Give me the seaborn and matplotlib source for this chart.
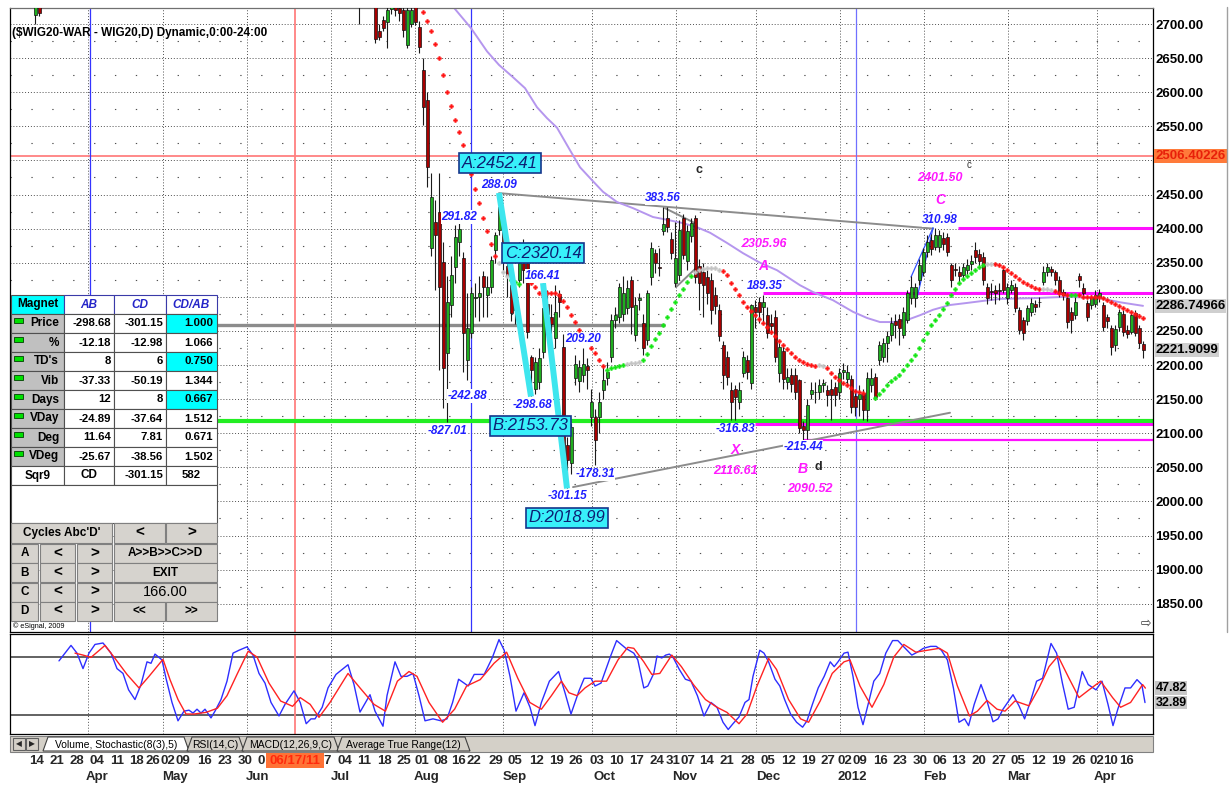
import matplotlib
matplotlib.use("Agg")

import matplotlib.pyplot as plt
import matplotlib.transforms as mtransforms
import numpy as np
import seaborn as sns
from matplotlib.patches import Polygon, Rectangle

# ---------------------------------------------------------------------------
# values
# x = session number, 0 = Mon 14 Mar 2011, one candle per session
# ---------------------------------------------------------------------------
candle_day = [0, 1] + list(range(81, 278))
opens = [
    2713, 2726,
    2740, 2745, 2750, 2740, 2725, 2690, 2706, 2703, 2722, 2728,
    2724, 2720, 2669, 2700, 2725, 2696, 2633, 2589, 2372, 2410,
    2424, 2351, 2218, 2288, 2344, 2380, 2357, 2207, 2247, 2298,
    2300, 2330, 2303, 2314, 2369, 2398, 2415, 2345, 2317, 2280,
    2325, 2350, 2350, 2212, 2165, 2175, 2219, 2290, 2270, 2240,
    2304, 2226, 2083, 2056, 2181, 2177, 2185, 2198, 2124, 2124,
    2124, 2163, 2181, 2212, 2266, 2270, 2275, 2284, 2325, 2244,
    2296, 2262, 2237, 2329, 2364, 2343, 2397, 2415, 2385, 2320,
    2332, 2416, 2352, 2389, 2416, 2345, 2337, 2329, 2325, 2303,
    2281, 2229, 2212, 2163, 2165, 2146, 2188, 2207, 2173, 2285,
    2292, 2285, 2273, 2262, 2270, 2188, 2220, 2175, 2185, 2185,
    2178, 2110, 2104, 2158, 2160, 2161, 2171, 2163, 2165, 2168,
    2160, 2190, 2180, 2180, 2155, 2150, 2159, 2134, 2170, 2182,
    2207, 2212, 2232, 2244, 2265, 2268, 2244, 2266, 2298, 2298,
    2325, 2336, 2365, 2384, 2373, 2373, 2386, 2388, 2346, 2341,
    2337, 2332, 2340, 2348, 2368, 2363, 2358, 2314, 2308, 2310,
    2310, 2340, 2298, 2310, 2314, 2281, 2266, 2264, 2278, 2289,
    2292, 2322, 2336, 2341, 2336, 2325, 2307, 2298, 2278, 2273,
    2330, 2313, 2291, 2288, 2290, 2300, 2288, 2270, 2254, 2230,
    2256, 2275, 2252, 2249, 2276, 2254, 2231,
]
highs = [
    2740, 2735,
    2760, 2760, 2760, 2750, 2735, 2700, 2712, 2730, 2740, 2740,
    2735, 2730, 2728, 2735, 2735, 2705, 2650, 2600, 2481, 2442,
    2481, 2380, 2330, 2360, 2405, 2420, 2365, 2305, 2315, 2320,
    2330, 2338, 2330, 2360, 2395, 2452, 2425, 2360, 2330, 2320,
    2380, 2385, 2360, 2215, 2212, 2225, 2320, 2310, 2290, 2318,
    2310, 2245, 2095, 2115, 2215, 2208, 2225, 2210, 2165, 2135,
    2160, 2200, 2205, 2275, 2285, 2320, 2330, 2325, 2330, 2300,
    2305, 2275, 2310, 2380, 2370, 2372, 2432, 2432, 2395, 2410,
    2413, 2422, 2405, 2415, 2420, 2355, 2350, 2340, 2335, 2315,
    2290, 2235, 2220, 2175, 2170, 2175, 2220, 2215, 2290, 2295,
    2300, 2302, 2285, 2275, 2280, 2232, 2228, 2195, 2195, 2195,
    2180, 2118, 2150, 2175, 2175, 2180, 2180, 2170, 2180, 2175,
    2195, 2203, 2200, 2185, 2160, 2170, 2165, 2190, 2195, 2188,
    2235, 2240, 2250, 2270, 2275, 2275, 2285, 2310, 2330, 2320,
    2355, 2372, 2390, 2392, 2401.5, 2398, 2395, 2393, 2350, 2350,
    2345, 2350, 2355, 2362, 2380, 2370, 2365, 2320, 2320, 2318,
    2320, 2345, 2320, 2325, 2320, 2285, 2270, 2288, 2298, 2295,
    2300, 2345, 2350, 2345, 2340, 2330, 2312, 2303, 2285, 2300,
    2335, 2320, 2295, 2302, 2310, 2312, 2292, 2275, 2258, 2258,
    2282, 2280, 2258, 2278, 2281, 2258, 2235,
]
lows = [
    2700, 2712,
    2700, 2728, 2730, 2725, 2672, 2676, 2690, 2665, 2715, 2712,
    2705, 2681, 2665, 2695, 2698, 2657, 2552, 2461, 2360, 2310,
    2193, 2137, 2117, 2270, 2320, 2360, 2190, 2178, 2240, 2270,
    2265, 2270, 2270, 2305, 2350, 2390, 2340, 2300, 2265, 2260,
    2315, 2320, 2240, 2154, 2158, 2165, 2210, 2255, 2240, 2225,
    2270, 2050, 2019, 2040, 2170, 2160, 2175, 2165, 2110, 2053,
    2100, 2150, 2170, 2205, 2255, 2262, 2265, 2275, 2245, 2235,
    2280, 2215, 2230, 2318, 2335, 2330, 2390, 2395, 2355, 2315,
    2325, 2355, 2340, 2380, 2320, 2280, 2270, 2290, 2260, 2275,
    2235, 2165, 2170, 2120, 2120, 2135, 2183, 2180, 2165, 2255,
    2262, 2260, 2240, 2245, 2205, 2175, 2165, 2165, 2160, 2150,
    2100, 2090.5, 2092, 2150, 2145, 2150, 2160, 2140, 2120, 2140,
    2150, 2180, 2170, 2130, 2125, 2125, 2120, 2118, 2160, 2148,
    2200, 2205, 2205, 2235, 2240, 2230, 2240, 2262, 2290, 2285,
    2318, 2330, 2358, 2362, 2368, 2365, 2368, 2360, 2315, 2330,
    2320, 2325, 2333, 2340, 2350, 2345, 2318, 2290, 2295, 2290,
    2295, 2305, 2290, 2305, 2278, 2245, 2237, 2258, 2272, 2278,
    2285, 2318, 2330, 2330, 2318, 2300, 2295, 2255, 2247, 2268,
    2315, 2298, 2265, 2282, 2285, 2292, 2250, 2255, 2215, 2220,
    2250, 2243, 2240, 2245, 2242, 2225, 2210,
]
closes = [
    2728, 2716,
    2745, 2750, 2740, 2735, 2678, 2681, 2694, 2720, 2725, 2720,
    2716, 2691, 2720, 2720, 2703, 2666, 2578, 2490, 2446, 2391,
    2314, 2196, 2292, 2332, 2388, 2400, 2247, 2254, 2305, 2300,
    2305, 2314, 2314, 2354, 2391, 2432, 2352, 2330, 2276, 2300,
    2350, 2340, 2248, 2193, 2205, 2210, 2284, 2275, 2260, 2278,
    2293, 2056, 2060, 2109, 2202, 2197, 2202, 2192, 2146, 2090,
    2146, 2178, 2190, 2266, 2273, 2314, 2305, 2313, 2285, 2288,
    2298, 2225, 2306, 2372, 2350, 2342, 2407, 2402, 2364, 2357,
    2398, 2361, 2397, 2408, 2329, 2320, 2318, 2306, 2281, 2286,
    2242, 2185, 2183, 2146, 2153, 2163, 2212, 2190, 2288, 2278,
    2278, 2292, 2247, 2257, 2212, 2226, 2180, 2183, 2172, 2160,
    2108, 2104, 2141, 2163, 2161, 2170, 2173, 2156, 2156, 2156,
    2188, 2192, 2190, 2138, 2138, 2158, 2134, 2181, 2181, 2153,
    2229, 2232, 2243, 2262, 2258, 2255, 2277, 2305, 2314, 2314,
    2346, 2365, 2380, 2370, 2390, 2390, 2377, 2366, 2325, 2340,
    2331, 2343, 2346, 2353, 2358, 2353, 2325, 2298, 2307, 2305,
    2309, 2310, 2314, 2318, 2283, 2251, 2247, 2283, 2291, 2285,
    2293, 2336, 2343, 2337, 2325, 2307, 2302, 2263, 2266, 2293,
    2325, 2305, 2270, 2299, 2302, 2305, 2256, 2264, 2226, 2253,
    2277, 2249, 2246, 2273, 2247, 2232, 2222,
]

# lavender moving average
ma_day = [104, 109, 113, 116, 119.5, 122.5, 125.5, 128, 130.5, 133.75,
          136.25, 139.25, 142, 145.5, 149.5, 154.5, 158, 162, 165.5, 168.75,
          173, 177, 181.25, 185.5, 191.25, 194.5, 199.5, 204.5, 208, 211.25,
          214.5, 218, 221.25, 224.5, 228.75, 233, 237, 241.25, 249.5, 258,
          266.25, 271.25, 277]
ma_val = [2729, 2694, 2660, 2640, 2622, 2606, 2578, 2562, 2548, 2515,
          2490, 2471, 2454, 2439, 2430, 2417, 2413, 2408, 2402, 2394,
          2379, 2364, 2350, 2339, 2317, 2307, 2295, 2278, 2269, 2263,
          2263, 2266, 2273, 2281, 2288, 2291, 2294, 2297, 2298, 2300,
          2298, 2292, 2286.74966]

# "+" stop line, one value per session starting at session 96
trail_first_day = 96
trail_val = [
    2735, 2718, 2704, 2690, 2670, 2650, 2625, 2600, 2580, 2560,
    2541, 2522, 2500, 2480, 2458, 2437, 2416, 2396, 2378, 2360,
    2350, 2337, 2330, 2325, 2322, 2319, None, None, 2320, 2314,
    2305, 2303, 2306, 2306, 2305, 2303, 2294, 2285, 2273, 2263,
    2251, 2242, 2233, 2225, 2218, 2207, 2198, 2193, 2195, 2197,
    2199, 2200, 2202, 2203, 2203, 2204, 2207, 2216, 2228, 2238,
    2247, 2258, 2270, 2282, 2293, 2303, 2312, 2321, 2330, 2336,
    2339, 2341, 2342, 2342, 2342, 2340, 2338, 2332, 2320, 2312,
    2303, 2292, 2285, 2279, 2273, 2267, 2262, 2256, 2249, 2242,
    2235, 2229, 2223, 2217, 2212, 2208, 2204, 2201, 2200, 2199,
    2200, 2199, 2196, 2189, 2183, 2178, 2174, 2170, 2166, 2162,
    2160, 2159, None, None, 2152, 2158, 2164, 2170, 2176, 2181,
    2186, 2193, 2200, 2207, 2215, 2225, 2236, 2247, 2258, 2266,
    2273, 2282, 2291, 2302, 2312, 2320, 2326, 2330, 2335, 2340,
    2344, 2347, 2348, 2348, 2348, 2346, 2343, 2339, 2335, 2331,
    2326, 2322, 2319, 2316, 2313, 2311, 2311, 2311, 2310, 2308,
    2306, 2304, 2303, 2303, 2303, 2302, 2300, 2300, 2300, 2300,
    2299, 2298, 2296, 2293, 2290, 2287, 2284, 2281, 2278, 2275,
    2272, 2269,
]
# r = red (above price), g = green (below price), n = grey, - = nothing
trail_side = ("rrrrrrrrrrrrrrrrrrrr" "nnn" "ggg" "--" "rrrrrrrrrrrrrrrrrrr"
              "ggggg" "nnnn" "ggggggggggggg" "nnnnnnn"
              "rrrrrrrrrrrrrrrrrrrrrrrr" "nn" "rrrrrrrrrr" "--"
              "gggggggggggggggggggggggggggg" "nn" "rrrrrrrrrrrr" "nnn"
              "rrrr" "gg" "rrrrrrrrrrrrrrrrr")

# Stochastic(8(3),5): %K (blue) and %D (red)
k_day = [6, 9, 10.5, 12, 13.5, 15, 17, 19, 20.5, 22,
         23.4, 25, 26.5, 28, 29, 30, 31.75, 32.75, 34.25, 35.75,
         37.25, 38.5, 39.5, 40.5, 41.5, 42.5, 44, 45, 46.5, 48,
         49.5, 51, 53, 54.5, 56, 57.5, 59, 61, 62.5, 64.75,
         66.3, 67.8, 69, 70, 71.8, 73.25, 75.25, 76.75, 78.25, 79.75,
         81.25, 83.75, 85, 87, 88, 90, 91.5, 93, 94.5, 96,
         97.5, 99.5, 101.5, 103, 104.4, 105.9, 108.3, 109.8, 112.3, 114.3,
         116, 117.3, 118.75, 120.25, 122.25, 123.75, 125, 126.6, 128.6, 130.9,
         132.5, 134, 136, 137.3, 139, 140, 141.5, 144, 145.4, 147.7,
         149.7, 150.7, 152.2, 153.2, 154.7, 155.5, 156.7, 157.7, 158.6, 159.6,
         161.1, 162.6, 164, 165.6, 167.25, 169, 170.5, 172, 173.3, 174.5,
         176, 177.5, 178.5, 179.5, 181.2, 182.25, 183.4, 185, 186.2, 187.4,
         188.9, 190.4, 191.9, 193, 194.35, 195.8, 197.3, 198.8, 199.8, 200.75,
         202.25, 203.25, 204.5, 205.75, 207, 208.4, 209.7, 211.2, 212.7, 214.4,
         215.7, 217.2, 219.2, 220.6, 222.1, 223.9, 225.3, 226.6, 228.1, 229.6,
         231, 232.4, 233.4, 234.8, 236.5, 238, 239.5, 240.75, 242, 244.5,
         246, 247.4, 249, 250.4, 251.9, 254, 255.4, 256.85, 258.3, 259.8,
         261.8, 263.3, 265.25, 266.75, 268.25, 269.5, 270.7, 272.5, 273.9, 275.5,
         276.7, 277.5]
k_val = [76, 92, 84, 68, 84, 93, 94.5, 84, 68, 63,
         46, 36, 51.5, 75, 73.5, 83, 77, 58, 33, 14,
         24, 25, 22, 26, 22, 26, 17, 24, 36, 55,
         84, 87, 90.5, 82, 63, 53, 33, 19, 31, 45,
         33, 11, 16, 16, 28, 48, 62, 67, 72, 51.5,
         23, 41, 24, 8.4, 40, 75, 60, 60, 63, 40,
         14, 16, 14, 16, 33, 57, 50, 62, 62, 79,
         98, 87, 60, 24, 43, 28, 9, 33, 55, 65,
         43, 21, 45, 58, 58, 50, 53, 82, 97, 89,
         84, 77, 48, 50, 63, 81, 79, 82, 83, 79,
         67, 57, 55, 40, 19, 33, 28, 12.5, 5, 11,
         18, 33, 36, 60, 87, 84, 75, 57, 50, 36,
         21, 12.5, 7.4, 14, 31, 48, 60, 75, 70, 75,
         84, 85, 60, 28, 10, 33, 55, 63, 84, 97,
         97, 90.5, 82, 85, 89, 91, 91, 87, 77, 48,
         12.5, 16, 9, 31, 51.5, 34.5, 13, 16, 26, 41,
         29.5, 16, 36, 55, 58, 94, 84, 53, 26, 28,
         65, 51.5, 46, 55, 31, 9, 26, 48, 48, 56.6,
         51.5, 32.89]
d_day = [10, 12, 14, 17.5, 20, 23, 26, 28.5, 32, 33.75,
         35.75, 37.75, 39.75, 42.75, 45.6, 48, 50.5, 53.3, 55.5, 58.5,
         61.4, 64.4, 66.3, 68.8, 71, 73.75, 78.25, 81.25, 84.75, 87.6,
         90.6, 93.5, 95.5, 98.5, 101.9, 104.9, 107.9, 111.3, 114.75, 117.9,
         120.7, 123.7, 126.6, 129.1, 131.6, 133.5, 135.5, 137.5, 140, 142.9,
         145.75, 148.2, 149.7, 152.2, 154.2, 156.2, 159.2, 161.6, 164.6, 167.6,
         170.5, 173, 176, 178, 180.5, 183.4, 185.4, 188.4, 191.4, 193.4,
         196.3, 199.3, 202.25, 203.75, 206.25, 209.25, 212.2, 214.7, 217.2, 220.2,
         223.1, 226.1, 228.1, 230.6, 233.6, 235.6, 238, 240.5, 242.5, 245,
         248.5, 251, 253.5, 255.75, 258.5, 261, 263.5, 266.4, 269.4, 271.4,
         273.9, 276.9, 277.6]
d_val = [84, 82, 79.6, 92, 78.6, 62, 48, 60, 77.6, 56.6,
         36, 21, 21, 22.7, 27, 40, 62, 86, 80, 53,
         34.5, 29, 38, 31, 17.6, 33, 63, 48, 31, 24,
         55, 65, 60, 33, 12.5, 26, 50, 56.6, 73.5, 85,
         58, 33, 26, 40, 55, 43, 40, 48, 55, 55,
         77, 90, 89, 75, 62, 63, 82, 70, 51.5, 36,
         28, 22.7, 11, 21, 50, 78.6, 67, 36, 16, 12.5,
         34.5, 63, 75, 77, 50, 28, 51.5, 80, 93, 85,
         87, 89, 84, 50, 19, 24, 35, 26, 24, 34.5,
         29.5, 48, 70, 81, 58, 38, 46, 55, 38, 28,
         33, 51.5, 47.82]

# ABCD pattern (harmonic tool)
abcd_day = [116, 124, 127, 133]
abcd_val = [2452.41, 2153.73, 2320.14, 2018.99]

# price scale
price_ticks = [1850, 1900, 1950, 2000, 2050, 2100, 2150, 2200, 2250, 2300,
               2350, 2400, 2450, 2500, 2550, 2600, 2650, 2700]
price_minor = [1875, 1925, 1975, 2025, 2075, 2125, 2175, 2225, 2275, 2325,
               2375, 2425, 2475, 2525, 2575, 2625, 2675]

# calendar axis (labels hidden under the cursor-date flag are left out)
week_day = [0.5, 5.5, 10.5, 15.5, 20.5, 25.25, 29.5, 33.25, 37, 42.5,
            47.5, 52.5, 56.5, 73, 77.5, 82.25, 87.25, 92.25,
            96.75, 101.5, 106, 109.75, 115.25, 120, 125.25, 130.25, 135.25, 140.5,
            145.5, 150.5, 155.5, 159.5, 163.25, 168, 173, 178.25, 183.25, 188.25,
            193.25, 198.25, 202.5, 206.25, 211.25, 216.25, 221.25, 226.25, 231, 236,
            241, 245.75, 251, 256, 261, 265.5, 269, 273]
week_lbl = ["14", "21", "28", "04", "11", "18", "26", "02", "09", "16",
            "23", "30", "0", "7", "04", "11", "18", "25",
            "01", "08", "16", "22", "29", "05", "12", "19", "26", "03",
            "10", "17", "24", "31", "07", "14", "21", "28", "05", "12",
            "19", "27", "02", "09", "16", "23", "30", "06", "13", "20",
            "27", "05", "12", "19", "26", "02", "10", "16"]
month_day = [15.5, 35, 55.75, 76.25, 98, 120, 142.25, 162.5, 183.25, 204.25,
             225, 246, 267.5]
month_lbl = ["Apr", "May", "Jun", "Jul", "Aug", "Sep", "Oct", "Nov", "Dec",
             "2012", "Feb", "Mar", "Apr"]
month_grid = [13.25, 32, 53, 74, 95, 117, 139.25, 160.25, 180.25, 201.25,
              222.25, 243.25, 265.5]

# "Magnet" table
tbl_rows = ["Price", "%", "TD's", "Vib", "Days", "VDay", "Deg", "VDeg"]
tbl_ab = ["-298.68", "-12.18", "8", "-37.33", "12", "-24.89", "11.64", "-25.67"]
tbl_cd = ["-301.15", "-12.98", "6", "-50.19", "8", "-37.64", "7.81", "-38.56"]
tbl_ratio = ["1.000", "1.066", "0.750", "1.344", "0.667", "1.512", "0.671", "1.502"]
tbl_hilite = [True, False, True, False, True, False, False, False]

# ---------------------------------------------------------------------------
sns.set_theme(style="white")
plt.rcParams["font.family"] = ["Liberation Sans", "DejaVu Sans"]

W, H = 1232, 785
XMIN, XMAX = -6.25, 279.5
fig = plt.figure(figsize=(W / 100, H / 100), dpi=100)
fig.patch.set_facecolor("white")


def px_box(left, top, right, bottom):
    return [left / W, 1 - bottom / H, (right - left) / W, (bottom - top) / H]


ax = fig.add_axes(px_box(10, 8, 1153, 632))
ax_st = fig.add_axes(px_box(10, 634, 1153, 734))
ax_dt = fig.add_axes(px_box(10, 740, 1153, 752))
ui = fig.add_axes([0, 0, 1, 1], zorder=10)
ui.set_xlim(0, W)
ui.set_ylim(H, 0)
ui.axis("off")
ui.patch.set_alpha(0)

dot = (0, (1, 2))
sparse = (0, (1.2, 17.6))

# ---------------- price panel ----------------
ax.set_facecolor("white")
ax.set_xlim(XMIN, XMAX)
ax.set_ylim(1808.5, 2723.5)
ax.set_axisbelow(True)
ax.set_yticks(price_ticks)
ax.set_yticks(price_minor, minor=True)
# 2500.00 sits under the 2506.40226 flag
ax.set_yticklabels(["" if v == 2500 else f"{v:.2f}" for v in price_ticks],
                   fontsize=9.5, fontweight="bold")
ax.yaxis.tick_right()
ax.tick_params(axis="y", which="both", length=0, pad=1.5, labelcolor="black")
for tick in ax.yaxis.get_major_ticks():
    if tick.get_loc() == 2300:
        tick.label2.set_verticalalignment("bottom")
ax.set_xticks(month_grid)
ax.tick_params(axis="x", length=0, labelbottom=False)
ax.grid(True, which="major", axis="both", linestyle=dot, color="#505050", lw=0.7)
ax.grid(True, which="minor", axis="y", linestyle=sparse, color="#505050", lw=0.8)
for s in ax.spines.values():
    s.set_color("black")
    s.set_linewidth(0.9)
ax.spines["top"].set_color("#707070")

# level lines
ax.axhline(2506.40226, color="#ff8080", lw=1.3, zorder=1.6)
ax.hlines(2259, XMIN, 157.5, color="#8c8c8c", lw=2.4, zorder=1.6)
ax.axhline(2118, color="#22ee22", lw=3.0, zorder=1.7)
ax.hlines(2113, 180, XMAX, color="#ff10ff", lw=2.2, zorder=1.7)
ax.hlines(2401.5, 230.75, XMAX, color="#ff10ff", lw=2.2, zorder=1.7)
ax.hlines(2305.96, 182, XMAX, color="#ff10ff", lw=2.2, zorder=1.7)
ax.hlines(2090.52, 192, XMAX, color="#ff10ff", lw=1.6, zorder=1.7)
ax.axvline(65, color="#ff8080", lw=1.3, zorder=1.6)
for d, col in ((13.75, "#3434ff"), (109, "#3434ff"), (205.25, "#7070ff")):
    ax.axvline(d, color=col, lw=0.9, zorder=1.6)

# trend lines
ax.plot([116, 224.5], [2452, 2400], color="#8c8c8c", lw=1.4, zorder=2)
ax.plot([134.5, 228.75], [2021, 2130], color="#8c8c8c", lw=1.4, zorder=2)
ax.plot([157.5, 165], [2430, 2408], color="#8c8c8c", lw=1.4, zorder=2)
ax.plot([160.4, 165.4], [2315, 2343], color="#8c8c8c", lw=1.4, zorder=2)
ax.plot([219, 224.5], [2329, 2401], color="#3050ff", lw=0.9, zorder=2)
ax.plot([220.5, 224.5], [2298, 2401], color="#3050ff", lw=0.9, zorder=2)

# moving average
sns.lineplot(x=ma_day, y=ma_val, ax=ax, color="#b596ee", lw=1.4,
             estimator=None, sort=False, zorder=2.2)

# candles
o = np.array(opens, float)
h = np.array(highs, float)
lo = np.array(lows, float)
c = np.array(closes, float)
body_col = np.where(c >= o, "#1fae1f", "#a80000")
ax.vlines(candle_day, lo, h, color="#1a1a1a", lw=0.8, zorder=3)
ax.bar(candle_day, np.abs(c - o), bottom=np.minimum(o, c), width=0.75,
       color=body_col, edgecolor="#111111", linewidth=0.5, zorder=3.1)

# stop line "+" markers
t_day = np.arange(trail_first_day, trail_first_day + len(trail_val))
t_val = np.array([np.nan if v is None else v for v in trail_val], float)
t_side = np.array(list(trail_side))
for code, col in (("r", "#ff1414"), ("g", "#14e614"), ("n", "#c4c4c4")):
    m = t_side == code
    ax.plot(t_day[m], t_val[m], ls="none", marker="P", ms=3.0, color=col,
            mec=col, mew=0.3, zorder=4)

# ABCD legs
ax.plot(abcd_day[0:2], abcd_val[0:2], color="#3ee6ee", lw=4.3, zorder=4.5,
        solid_capstyle="butt")
ax.plot(abcd_day[2:4], abcd_val[2:4], color="#3ee6ee", lw=4.3, zorder=4.5,
        solid_capstyle="butt")

box_style = dict(boxstyle="square,pad=0.16", fc="#38f0fa", ec="#14368c", lw=1.2)
for d, v, s in ((116.25, 2496, "A:2452.41"), (123.9, 2110.6, "B:2153.73"),
                (127, 2364, "C:2320.14"), (133, 1975.7, "D:2018.99")):
    ax.text(d, v, s, ha="center", va="center", fontsize=12, fontstyle="italic",
            color="#0c1f73", bbox=box_style, zorder=8)


def blue(d, v, s):
    ax.text(d, v, s, ha="center", va="center", fontsize=8.5, fontweight="bold",
            fontstyle="italic", color="#1f1fff", zorder=7,
            bbox=dict(boxstyle="square,pad=0.05", fc="white", ec="none"))


def pink(d, v, s, size=9):
    ax.text(d, v, s, ha="center", va="center", fontsize=size, fontweight="bold",
            fontstyle="italic", color="#ff1aff", zorder=7)


blue(116, 2464, "288.09")
blue(106, 2417, "291.82")
blue(157, 2445, "383.56")
blue(127, 2330.5, "166.41")
blue(108, 2154.5, "-242.88")
blue(124.25, 2141.3, "-298.68")
blue(103, 2103, "-827.01")
blue(137, 2238, "209.20")
blue(140, 2040, "-178.31")
blue(133, 2008, "-301.15")
blue(175, 2106, "-316.83")
blue(192, 2080, "-215.44")
blue(182.5, 2316, "189.35")
blue(226.25, 2412.6, "310.98")

pink(182.25, 2377.4, "2305.96")
pink(182, 2345, "A", 10)
pink(175, 2075.5, "X", 10)
pink(175.25, 2044.6, "2116.61")
pink(192, 2047.5, "B", 10)
pink(193.75, 2018, "2090.52")
pink(226.25, 2442, "C", 10)
pink(226.25, 2474, "2401.50")
ax.text(166, 2486, "c", ha="center", va="center", fontsize=9, fontweight="bold", zorder=7)
ax.text(195.75, 2050.5, "d", ha="center", va="center", fontsize=9, fontweight="bold", zorder=7)
ax.text(233.5, 2494, "ĉ", ha="center", va="center", fontsize=7, color="#333333", zorder=7)

# value flags on the price scale
rt = mtransforms.blended_transform_factory(ax.transAxes, ax.transData)
ax.text(1.002, 2506.40226, "2506.40226", transform=rt, ha="left", va="center",
        fontsize=9.5, fontweight="bold", color="#e8200a", zorder=20,
        bbox=dict(boxstyle="square,pad=0.1", fc="#ff7a3a", ec="none"))
ax.text(1.002, 2286.74966, "2286.74966", transform=rt, ha="left", va="center",
        fontsize=9.5, fontweight="bold", color="black", zorder=20,
        bbox=dict(boxstyle="square,pad=0.05", fc="#cfcfcf", ec="none"))
ax.text(1.002, 2221.9099, "2221.9099", transform=rt, ha="left", va="center",
        fontsize=9.5, fontweight="bold", color="black", zorder=20,
        bbox=dict(boxstyle="square,pad=0.05", fc="#cfcfcf", ec="none"))
ax.set_xlabel("")
ax.set_ylabel("")

# ---------------- stochastic panel ----------------
ax_st.set_facecolor("white")
sns.lineplot(x=k_day, y=k_val, ax=ax_st, color="#2e2eff", lw=1.0,
             estimator=None, sort=False)
sns.lineplot(x=d_day, y=d_val, ax=ax_st, color="#ff2222", lw=1.0,
             estimator=None, sort=False)
ax_st.set_xlim(XMIN, XMAX)
ax_st.set_ylim(0.35, 103.8)
ax_st.set_axisbelow(True)
ax_st.set_xticks(month_grid)
ax_st.set_yticks([])
ax_st.tick_params(axis="x", length=0, labelbottom=False)
ax_st.grid(True, axis="x", linestyle=dot, color="#505050", lw=0.7)
ax_st.axhline(80, color="#383838", lw=1.1, zorder=1.5)
ax_st.axhline(20, color="#383838", lw=1.1, zorder=1.5)
ax_st.axvline(65, color="#ff8080", lw=1.3, zorder=1.6)
for s in ax_st.spines.values():
    s.set_color("black")
    s.set_linewidth(0.9)
ax_st.set_xlabel("")
ax_st.set_ylabel("")
st_rt = mtransforms.blended_transform_factory(ax_st.transAxes, ax_st.transData)
for v in (47.82, 32.89):
    ax_st.text(1.002, v, f"{v:.2f}", transform=st_rt, ha="left", va="center",
               fontsize=9, fontweight="bold", color="black", zorder=20,
               bbox=dict(boxstyle="square,pad=0.05", fc="#c8c8c8", ec="none"))

# ---------------- date scale ----------------
ax_dt.set_xlim(XMIN, XMAX)
ax_dt.set_ylim(0, 1)
ax_dt.patch.set_alpha(0)
for s in ax_dt.spines.values():
    s.set_visible(False)
ax_dt.set_yticks([])
ax_dt.xaxis.remove_overlapping_locs = False
ax_dt.set_xticks(week_day)
ax_dt.set_xticklabels(week_lbl, fontsize=9.5, fontweight="bold")
ax_dt.set_xticks(month_day, minor=True)
ax_dt.set_xticklabels(month_lbl, minor=True, fontsize=9.5, fontweight="bold")
ax_dt.tick_params(axis="x", which="major", length=0, pad=2.5)
ax_dt.tick_params(axis="x", which="minor", length=0, pad=14)

# ---------------- window furniture (pixel coordinates) ----------------
ui.text(12, 33, "($WIG20-WAR - WIG20,D) Dynamic,0:00-24:00", ha="left",
        va="center", fontsize=8.5, fontweight="bold", color="black")
ui.plot([1227, 1227], [7, 632], color="#a0a0a0", lw=1)
ui.text(1146, 623, "⇨", ha="center", va="center", fontsize=9,
        family="DejaVu Sans", color="#333333")
ui.text(13, 626, "© eSignal, 2009", ha="left", va="center", fontsize=5.2,
        color="black")


def cell(x0, y0, x1, y1, fc, ec="#505050", lw=0.8):
    ui.add_patch(Rectangle((x0, y0), x1 - x0, y1 - y0, facecolor=fc,
                           edgecolor=ec, linewidth=lw))


def txt(x, y, s, ha="center", size=8.5, weight="bold", color="black",
        style="normal"):
    ui.text(x, y, s, ha=ha, va="center", fontsize=size, fontweight=weight,
            color=color, fontstyle=style)


col_x = [11, 64, 114, 166, 217]
cell(11, 295, 64, 314, "#00ffff")
txt(37.5, 304.5, "Magnet")
for j, lbl in enumerate(["AB", "CD", "CD/AB"]):
    cell(col_x[j + 1], 295, col_x[j + 2], 314, "white", ec="#3a3aa8")
    txt((col_x[j + 1] + col_x[j + 2]) / 2, 304.5, lbl, color="#2424c8",
        style="italic")
for r, name in enumerate(tbl_rows):
    y0 = 314 + 19 * r
    yc = y0 + 9.5
    cell(11, y0, 64, y0 + 19, "#c0c0c0")
    ui.add_patch(Rectangle((13.5, y0 + 3.5), 9, 5, facecolor="#00e000",
                           edgecolor="#004000", linewidth=0.6))
    txt(59, yc, name, ha="right")
    cell(64, y0, 114, y0 + 19, "white")
    txt(111, yc, tbl_ab[r], ha="right", size=8.2)
    cell(114, y0, 166, y0 + 19, "white")
    txt(163, yc, tbl_cd[r], ha="right", size=8.2)
    cell(166, y0, 217, y0 + 19, "#00ffff" if tbl_hilite[r] else "white")
    txt(213, yc, tbl_ratio[r], ha="right", size=8.2)
cell(11, 466, 64, 485, "white")
txt(37.5, 475.5, "Sqr9")
cell(64, 466, 114, 485, "white")
txt(89, 475.5, "CD")
cell(114, 466, 166, 485, "white")
txt(163, 475.5, "-301.15", ha="right", size=8.2)
cell(166, 466, 217, 485, "white")
txt(191, 475.5, "582", size=8.2)
cell(11, 485, 217, 523, "white")

btn = "#d6d3ce"
cell(11, 523, 112, 543, btn, ec="#808080")
txt(61.5, 533, "Cycles Abc'D'")
cell(114, 523, 165, 543, btn, ec="#808080")
txt(139.5, 533, "<", size=11)
cell(166, 523, 217, 543, btn, ec="#808080")
txt(191.5, 533, ">", size=11)
right_btn = ["A>>B>>C>>D", "EXIT", "166.00", None]
for r, letter in enumerate(["A", "B", "C", "D"]):
    y0 = 544 + 19.3 * r
    y1 = y0 + 19
    yc = (y0 + y1) / 2
    cell(11, y0, 38, y1, btn, ec="#808080")
    txt(24.5, yc, letter)
    cell(40, y0, 75, y1, btn, ec="#808080")
    txt(57.5, yc, "<", size=11)
    cell(77, y0, 112, y1, btn, ec="#808080")
    txt(94.5, yc, ">", size=11)
    if right_btn[r] is None:
        cell(114, y0, 165, y1, btn, ec="#808080")
        txt(139.5, yc, "<<")
        cell(166, y0, 217, y1, btn, ec="#808080")
        txt(191.5, yc, ">>")
    else:
        cell(114, y0, 217, y1, btn, ec="#808080")
        if right_btn[r] == "166.00":
            txt(165.5, yc, right_btn[r], size=10.5, weight="normal")
        else:
            txt(165.5, yc, right_btn[r])

# indicator tab strip
cell(10, 736, 1153, 752, "#d4d0c8", ec="#808080")
cell(13, 738, 25, 750, "#d4d0c8", ec="#606060")
cell(26, 738, 38, 750, "#d4d0c8", ec="#606060")
ui.text(19, 744, "◀", ha="center", va="center", fontsize=5.5, family="DejaVu Sans")
ui.text(32, 744, "▶", ha="center", va="center", fontsize=5.5, family="DejaVu Sans")
tabs = [("Volume, Stochastic(8(3),5)", 43, 189, "white"),
        ("RSI(14,C)", 187, 244, "#d4d0c8"),
        ("MACD(12,26,9,C)", 242, 339, "#d4d0c8"),
        ("Average True Range(12)", 337, 470, "#d4d0c8")]
for label, x0, x1, fc in tabs:
    ui.add_patch(Polygon([(x0, 751), (x0 + 5, 737), (x1 - 5, 737), (x1, 751)],
                         closed=True, facecolor=fc, edgecolor="#404040", lw=0.8))
    ui.text((x0 + x1) / 2, 744.5, label, ha="center", va="center", fontsize=7.5,
            color="black")

# highlighted cursor date
cell(266, 753, 324, 768, "#ff7236", ec="none")
txt(295, 760.5, "06/17/11", size=9.5, color="#ff2a0c")

fig.savefig("out.png", dpi=100)
